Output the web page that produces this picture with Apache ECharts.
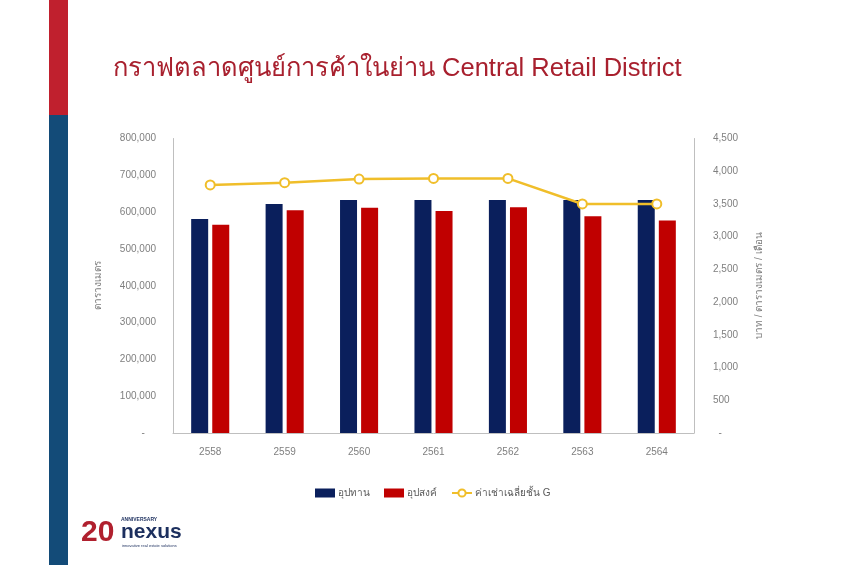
<!DOCTYPE html>
<html>
<head>
<meta charset="utf-8">
<script src="https://cdn.jsdelivr.net/npm/echarts@6/dist/echarts.min.js"></script>
<style>
html,body{margin:0;padding:0;background:#fff;}
#chart{width:850px;height:565px;}
</style>
</head>
<body>
<div id="chart"></div>
<script>
const categories = ['2558','2559','2560','2561','2562','2563','2564'];
const supply = [581000, 622000, 633000, 633000, 633000, 633000, 633000];
const demand = [566000, 605000, 612000, 603000, 613000, 589000, 577000];
const rentG = [3790, 3825, 3880, 3890, 3890, 3500, 3500];
const seriesNames = ['อุปทาน', 'อุปสงค์', 'ค่าเช่าเฉลี่ยชั้น G'];
const titleText = 'กราฟตลาดศูนย์การค้าในย่าน Central Retail District';
const leftAxisName = 'ตารางเมตร';
const rightAxisName = 'บาท / ตารางเมตร / เดือน';

const chart = echarts.init(document.getElementById('chart'), null, {renderer: 'canvas'});
const fmt = v => v === 0 ? '-    ' : v.toLocaleString('en-US');
const fmtR = v => v === 0 ? '  -' : v.toLocaleString('en-US');
const labelColor = '#7f7f7f';
const font = 'Arial, "Liberation Sans", "Noto Sans", sans-serif';

chart.setOption({
  animation: false,
  backgroundColor: '#ffffff',
  textStyle: {fontFamily: font},
  title: {
    text: titleText,
    left: 108, top: 51,
    textStyle: {color: '#A8202E', fontSize: 25.5, fontWeight: 'normal', fontFamily: 'Tahoma, "Liberation Sans", Arial, sans-serif'}
  },
  graphic: [
    {type: 'rect', shape: {x: 49, y: 0, width: 19, height: 115}, style: {fill: '#C0202E'}},
    {type: 'rect', shape: {x: 49, y: 115, width: 19, height: 450}, style: {fill: '#134B78'}},
    {type: 'text', left: 81, top: 518, style: {text: '20', fill: '#B0202E', font: 'bold 30px "Liberation Sans Narrow", Arial, sans-serif'}},
    {type: 'text', left: 121, top: 517, style: {text: 'ANNIVERSARY', fill: '#1C2F5E', font: 'bold 5px Arial, sans-serif'}},
    {type: 'text', left: 121, top: 522, style: {text: 'nexus', fill: '#1C2F5E', font: 'bold 21px Arial, "Liberation Sans", sans-serif'}},
    {type: 'text', left: 122, top: 544, style: {text: 'innovative real estate solutions', fill: '#1C2F5E', font: '4px Arial, sans-serif'}}
  ],
  legend: {
    bottom: 62,
    left: 310,
    itemGap: 14,
    itemWidth: 20,
    itemHeight: 9,
    textStyle: {color: '#595959', fontSize: 10, fontFamily: font, padding: [0, 0, 0, -2]},
    data: [
      {name: seriesNames[0], icon: 'rect'},
      {name: seriesNames[1], icon: 'rect'},
      {name: seriesNames[2]}
    ]
  },
  grid: {left: 173, right: 156, top: 138.5, bottom: 132, containLabel: false},
  xAxis: {
    type: 'category',
    data: categories,
    axisTick: {show: false},
    axisLine: {lineStyle: {color: '#bfbfbf', width: 1}},
    axisLabel: {color: labelColor, fontSize: 10, margin: 14}
  },
  yAxis: [
    {
      type: 'value', min: 0, max: 800000, interval: 100000,
      name: leftAxisName, nameLocation: 'middle', nameRotate: 90, nameGap: 70,
      nameTextStyle: {color: labelColor, fontSize: 10},
      axisLine: {show: true, lineStyle: {color: '#bfbfbf'}},
      axisTick: {show: false},
      splitLine: {show: false},
      axisLabel: {color: labelColor, fontSize: 10, margin: 17, formatter: fmt}
    },
    {
      type: 'value', min: 0, max: 4500, interval: 500,
      name: rightAxisName, nameLocation: 'middle', nameRotate: 90, nameGap: 60,
      nameTextStyle: {color: labelColor, fontSize: 10},
      axisLine: {show: true, lineStyle: {color: '#bfbfbf'}},
      axisTick: {show: false},
      splitLine: {show: false},
      axisLabel: {color: labelColor, fontSize: 10, margin: 19, formatter: fmtR}
    }
  ],
  series: [
    {name: seriesNames[0], type: 'bar', data: supply, barWidth: 17, barGap: '24%',
     itemStyle: {color: '#0A1F5C'}},
    {name: seriesNames[1], type: 'bar', data: demand, barWidth: 17,
     itemStyle: {color: '#C00000'}},
    {name: seriesNames[2], type: 'line', yAxisIndex: 1, data: rentG,
     symbol: 'emptyCircle', symbolSize: 9,
     lineStyle: {color: '#F0BE2A', width: 2.5},
     itemStyle: {color: '#F0BE2A', borderColor: '#F0BE2A', borderWidth: 2.5}}
  ]
});
</script>
</body>
</html>
